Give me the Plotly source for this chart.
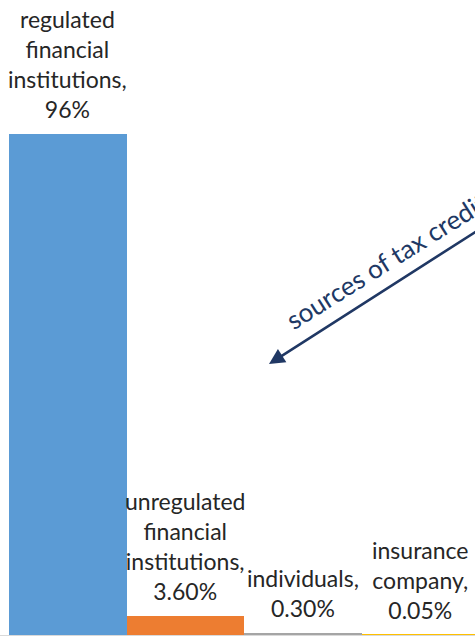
import plotly.graph_objects as go

categories = ["regulated financial institutions", "unregulated financial institutions",
              "individuals", "insurance company"]
label_lines = [["regulated", "financial", "institutions,"],
               ["unregulated", "financial", "institutions,"],
               ["individuals,"],
               ["insurance", "company,"]]
values = [96, 3.6, 0.30, 0.05]
value_labels = ["96%", "3.60%", "0.30%", "0.05%"]
colors = ["#5B9BD5", "#ED7D31", "#A5A5A5", "#FFC000"]
note_text = "sources of tax credit"

W, H = 475, 636
BW = 117.5           # bar width in px
X0 = -0.5 - 9 / BW   # left of x range
YMAX = 121.7
PB = 635             # plot bottom in px


def px_to_x(px):
    return X0 + px / BW


def px_to_y(py):
    return (PB - py) / PB * YMAX


fig = go.Figure(go.Bar(x=list(range(len(values))), y=values, marker_color=colors,
                       marker_line_width=0, width=1.0, hoverinfo="skip"))

FONT = "Lato"
for i, (lines, v, vl) in enumerate(zip(label_lines, values, value_labels)):
    fig.add_annotation(x=i, y=v, xref="x", yref="y", text="<br>".join(lines + [vl]),
                       showarrow=False, yanchor="bottom", xanchor="center", yshift=9,
                       font=dict(family=FONT, size=23, color="#262626"))

# arrow
fig.add_annotation(x=px_to_x(269), y=px_to_y(364), xref="x", yref="y",
                   ax=px_to_x(480), ay=px_to_y(229), axref="x", ayref="y", text="",
                   showarrow=True, arrowhead=2, arrowsize=1.2, arrowwidth=2.6,
                   arrowcolor="#203864")
fig.add_annotation(x=px_to_x(386), y=px_to_y(261), xref="x", yref="y",
                   xanchor="center", yanchor="middle",
                   text=note_text, showarrow=False, textangle=-32,
                   font=dict(family=FONT, size=26, color="#203864"))

fig.update_layout(
    width=W, height=H, margin=dict(l=0, r=0, t=0, b=H - PB),
    paper_bgcolor="white", plot_bgcolor="white", showlegend=False, bargap=0,
    xaxis=dict(range=[X0, X0 + W / BW], showticklabels=False,
               showgrid=False, zeroline=False, showline=True, linecolor="#D9D9D9", linewidth=1),
    yaxis=dict(range=[0, YMAX], visible=False),
)
fig.write_html("out.html", config={"displayModeBar": False},
               post_script="document.body.style.margin='0';")
